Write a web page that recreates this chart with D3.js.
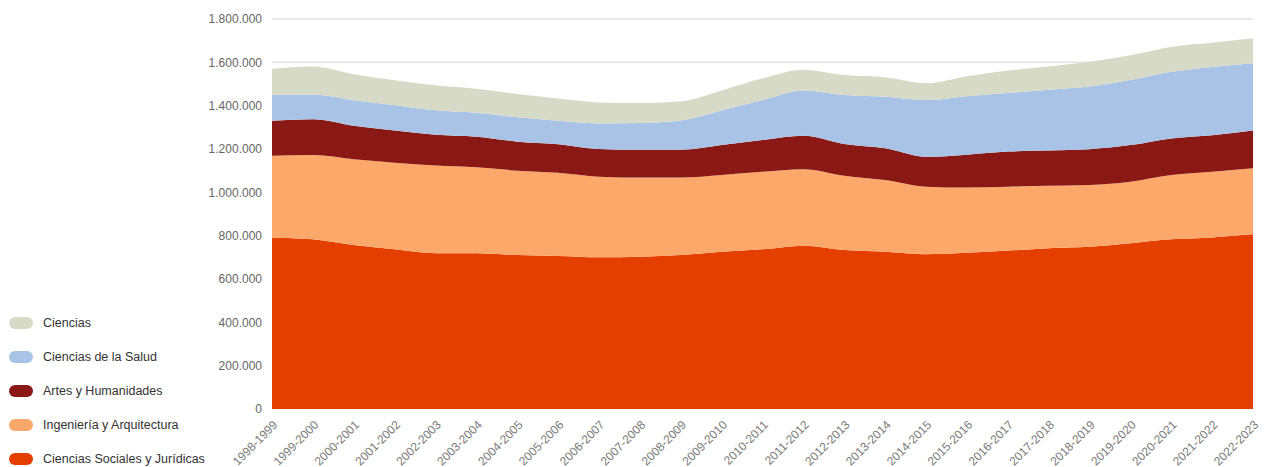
<!DOCTYPE html>
<html><head><meta charset="utf-8">
<script src="https://cdn.jsdelivr.net/npm/d3@7"></script>
<style>body{margin:0;background:#fff;}svg{display:block;font-family:"Liberation Sans",Arial,sans-serif;}</style>
</head><body><svg id="chart" width="1269" height="467"></svg>
<script>
const categories = ["1998-1999","1999-2000","2000-2001","2001-2002","2002-2003","2003-2004","2004-2005","2005-2006","2006-2007","2007-2008","2008-2009","2009-2010","2010-2011","2011-2012","2012-2013","2013-2014","2014-2015","2015-2016","2016-2017","2017-2018","2018-2019","2019-2020","2020-2021","2021-2022","2022-2023"];
const sociales   = [792000,783000,757000,737000,719000,719000,711000,706000,700000,703000,711000,726000,737000,754000,734000,726000,714000,721000,731000,742000,749000,765000,783000,792000,806000];
const ingenieria = [377000,389000,396000,400000,405000,397000,389000,384000,372000,365000,357000,354000,358000,353000,343000,331000,312000,301000,295000,288000,285000,284000,297000,303000,305000];
const artes      = [161000,165000,154000,148000,142000,141000,134000,132000,128000,128000,128000,138000,146000,154000,146000,146000,138000,152000,162000,163000,165000,169000,169000,169000,174000];
const salud      = [120000,114000,118000,117000,113000,110000,112000,108000,118000,124000,136000,160000,185000,209000,226000,238000,262000,270000,270000,280000,289000,300000,307000,315000,311000];
const ciencias   = [120000,130000,120000,115000,115000,111000,108000,103000,97000,92000,88000,92000,100000,96000,92000,90000,77000,92000,104000,108000,115000,115000,115000,111000,115000];
const yTicks = [0,200000,400000,600000,800000,1000000,1200000,1400000,1600000,1800000];
const seriesNames = ["Ciencias Sociales y Jurídicas","Ingeniería y Arquitectura","Artes y Humanidades","Ciencias de la Salud","Ciencias"];
const seriesColors = ["#e43f00","#fca86a","#8a1814","#a9c3e7","#d7dac7"];

const rows = categories.map((c,i)=>({cat:c, s0:sociales[i], s1:ingenieria[i], s2:artes[i], s3:salud[i], s4:ciencias[i]}));
const keys = ["s0","s1","s2","s3","s4"];
const stack = d3.stack().keys(keys)(rows);

const svg = d3.select("#chart");
const mLeft = 272, mRight = 1253, mTop = 19, mBottom = 409;
const x = d3.scalePoint().domain(categories).range([mLeft,mRight]);
const y = d3.scaleLinear().domain([0,1800000]).range([mBottom,mTop]);
const fmt = v => d3.format(",")(v).replace(/,/g,".");

// gridlines
svg.append("g").selectAll("line").data(yTicks.filter(t=>t>0)).join("line")
  .attr("x1",mLeft).attr("x2",mRight).attr("y1",d=>y(d)).attr("y2",d=>y(d))
  .attr("stroke","#e2e2e2").attr("stroke-width",1.5);

const area = d3.area().x(d=>x(d.data.cat)).y0(d=>y(d[0])).y1(d=>y(d[1])).curve(d3.curveMonotoneX);
svg.append("g").selectAll("path").data(stack).join("path")
  .attr("d",area).attr("fill",(d,i)=>seriesColors[i]);

// y axis
const yAxis = d3.axisLeft(y).tickValues(yTicks).tickFormat(fmt).tickSize(0).tickPadding(10);
const ga = svg.append("g").attr("transform",`translate(${mLeft},0)`).call(yAxis);
ga.select(".domain").remove();
ga.selectAll("text").attr("fill","#666").attr("font-size",12);

// x axis
const xAxis = d3.axisBottom(x).tickSize(0).tickPadding(6);
const gx = svg.append("g").attr("transform",`translate(0,${mBottom})`).call(xAxis);
gx.select(".domain").remove();
gx.selectAll("text").attr("fill","#7a7a7a").attr("font-size",12)
  .attr("text-anchor","end").attr("dy","0.35em")
  .attr("transform","translate(0,8) rotate(-45)").attr("dx","-2");

// legend
const legendOrder = [4,3,2,1,0];
const lg = svg.append("g");
legendOrder.forEach((si,k)=>{
  const cy = 323 + k*34;
  lg.append("rect").attr("x",9).attr("y",cy-6).attr("width",24).attr("height",12).attr("rx",6).attr("fill",seriesColors[si]);
  lg.append("text").attr("x",43).attr("y",cy).attr("dy","0.35em").attr("font-size",12.5).attr("fill","#333").text(seriesNames[si]);
});
</script></body></html>
